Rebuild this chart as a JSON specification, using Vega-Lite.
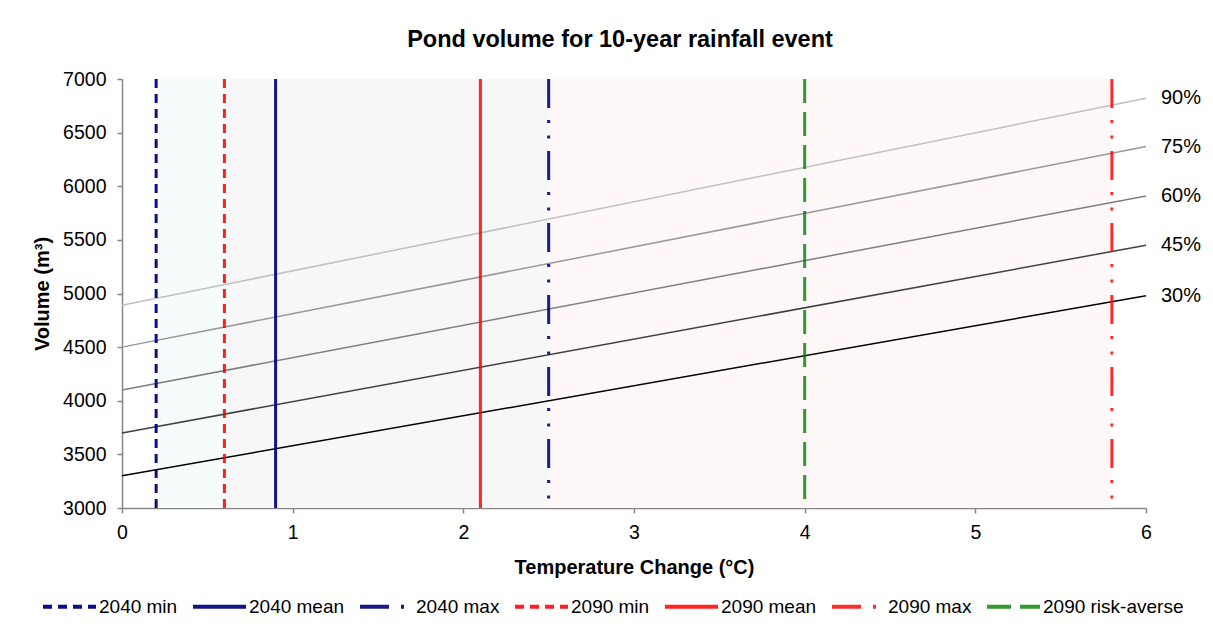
{
  "$schema": "https://vega.github.io/schema/vega-lite/v6.json",
  "width": 1024,
  "height": 429,
  "autosize": {"type": "none"},
  "padding": {"left": 122, "top": 79, "right": 67, "bottom": 127},
  "background": "white",
  "title": {
    "text": "Pond volume for 10-year rainfall event",
    "fontSize": 23.5,
    "font": "Liberation Sans",
    "fontWeight": "bold",
    "color": "#000000",
    "anchor": "middle",
    "frame": "group",
    "baseline": "alphabetic",
    "offset": -1,
    "dx": -14
  },
  "config": {
    "view": {"stroke": null},
    "font": "Liberation Sans",
    "axis": {
      "domainColor": "#868686",
      "tickColor": "#868686",
      "domainWidth": 1.5,
      "tickWidth": 1.5,
      "tickSize": 5,
      "grid": false,
      "labelFontSize": 19.5,
      "labelColor": "#000000",
      "labelFont": "Liberation Sans",
      "labelFlush": false,
      "titleFontSize": 20,
      "titleFontWeight": "bold",
      "titleColor": "#000000",
      "titleFont": "Liberation Sans"
    }
  },
  "datasets": {
    "bands": [
      {"band": "a", "start": 0.2, "end": 0.6},
      {"band": "b", "start": 0.6, "end": 2.5},
      {"band": "c", "start": 2.5, "end": 5.8}
    ],
    "curves": [
      {"pct": "30%", "t": 0, "v": 3300},
      {"pct": "30%", "t": 6, "v": 4980},
      {"pct": "45%", "t": 0, "v": 3700},
      {"pct": "45%", "t": 6, "v": 5450},
      {"pct": "60%", "t": 0, "v": 4100},
      {"pct": "60%", "t": 6, "v": 5910},
      {"pct": "75%", "t": 0, "v": 4500},
      {"pct": "75%", "t": 6, "v": 6370},
      {"pct": "90%", "t": 0, "v": 4890},
      {"pct": "90%", "t": 6, "v": 6820}
    ],
    "markers": [
      {"series": "2040 min", "t": 0.2},
      {"series": "2040 mean", "t": 0.9},
      {"series": "2040 max", "t": 2.5},
      {"series": "2090 min", "t": 0.6},
      {"series": "2090 mean", "t": 2.1},
      {"series": "2090 max", "t": 5.8},
      {"series": "2090 risk-averse", "t": 4.0}
    ]
  },
  "layer": [
    {
      "data": {"name": "bands"},
      "mark": {"type": "rect"},
      "encoding": {
        "x": {
          "field": "start",
          "type": "quantitative",
          "scale": {"domain": [0, 6], "nice": false},
          "axis": {"values": [0, 1, 2, 3, 4, 5, 6], "format": "d", "title": "Temperature Change (°C)", "labelPadding": 10, "titlePadding": 16}
        },
        "x2": {"field": "end"},
        "fill": {
          "field": "band",
          "type": "nominal",
          "scale": {"domain": ["a", "b", "c"], "range": ["#f6fcfc", "#f7f7f7", "#fdf8f7"]},
          "legend": null
        }
      }
    },
    {
      "data": {"name": "curves"},
      "mark": {"type": "line", "strokeWidth": 1.5},
      "encoding": {
        "x": {"field": "t", "type": "quantitative"},
        "y": {
          "field": "v",
          "type": "quantitative",
          "scale": {"domain": [3000, 7000], "nice": false},
          "axis": {"values": [3000, 3500, 4000, 4500, 5000, 5500, 6000, 6500, 7000], "format": "d", "title": "Volume (m³)", "labelPadding": 11, "titlePadding": 10}
        },
        "stroke": {
          "field": "pct",
          "type": "nominal",
          "scale": {"domain": ["30%", "45%", "60%", "75%", "90%"], "range": ["#000000", "#404040", "#7f7f7f", "#999999", "#c0c0c0"]},
          "legend": null
        }
      }
    },
    {
      "data": {"name": "markers"},
      "mark": {"type": "rule", "strokeWidth": 3},
      "encoding": {
        "x": {"field": "t", "type": "quantitative"},
        "color": {
          "field": "series",
          "type": "nominal",
          "scale": {
            "domain": ["2040 min", "2040 mean", "2040 max", "2090 min", "2090 mean", "2090 max", "2090 risk-averse"],
            "range": ["#000080", "#000080", "#000080", "#ff0000", "#ff0000", "#ff0000", "#008000"]
          },
          "legend": {
            "title": null, "orient": "none", "direction": "horizontal", "columns": 7,
            "legendX": -81, "legendY": 499, "symbolType": "stroke", "symbolSize": 2809,
            "symbolStrokeWidth": 4, "labelFontSize": 19, "labelOffset": 1, "columnPadding": 7,
            "padding": 0, "labelColor": "#000000", "labelFont": "Liberation Sans", "labelLimit": 400
          }
        },
        "strokeDash": {
          "field": "series",
          "type": "nominal",
          "scale": {
            "domain": ["2040 min", "2040 mean", "2040 max", "2090 min", "2090 mean", "2090 max", "2090 risk-averse"],
            "range": [[9, 6], [1, 0], [29, 12, 3, 12.5, 3, 12.5], [9, 6], [1, 0], [29, 12, 3, 12.5, 3, 12.5], [24, 9]]
          },
          "legend": {
            "title": null, "orient": "none", "direction": "horizontal", "columns": 7,
            "legendX": -81, "legendY": 499, "symbolType": "stroke", "symbolSize": 2809,
            "symbolStrokeWidth": 4, "labelFontSize": 19, "labelOffset": 1, "columnPadding": 7,
            "padding": 0, "labelColor": "#000000", "labelFont": "Liberation Sans", "labelLimit": 400
          }
        },
        "opacity": {
          "field": "series",
          "type": "nominal",
          "scale": {
            "domain": ["2040 min", "2040 mean", "2040 max", "2090 min", "2090 mean", "2090 max", "2090 risk-averse"],
            "range": [0.95, 0.8, 0.9, 0.8, 0.8, 1, 1]
          },
          "legend": null
        }
      }
    },
    {
      "data": {"name": "curves"},
      "transform": [{"filter": "datum.t == 6"}],
      "mark": {"type": "text", "align": "left", "baseline": "middle", "dx": 15, "fontSize": 20, "font": "Liberation Sans", "color": "#000000"},
      "encoding": {
        "x": {"field": "t", "type": "quantitative"},
        "y": {"field": "v", "type": "quantitative"},
        "text": {"field": "pct"}
      }
    }
  ]
}
